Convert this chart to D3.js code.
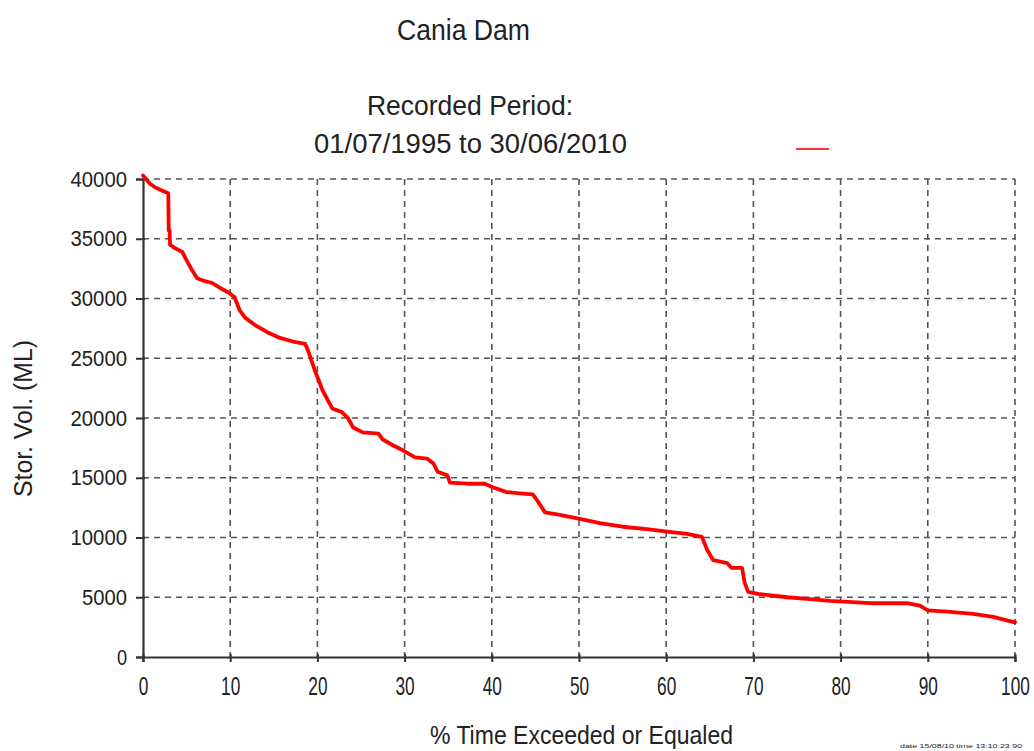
<!DOCTYPE html>
<html>
<head>
<meta charset="utf-8">
<script src="https://cdn.jsdelivr.net/npm/d3@7/dist/d3.min.js"></script>
<style>
  html, body { margin: 0; padding: 0; background: #fff; }
  svg { display: block; }
  text { font-family: "Liberation Sans Narrow", "Arial Narrow", "Liberation Sans", Arial, sans-serif; fill: #222; }
</style>
</head>
<body>
<svg id="chart" width="1034" height="751"></svg>
<script>
// ---- data ----
const pctExceeded = [0, 0.8, 1.4, 2.3, 2.9, 2.95, 3.05, 3.1, 3.7, 4.5, 5.0, 5.6, 6.2, 6.9, 7.9, 8.8, 9.8, 10.5, 11.1, 11.7, 12.8, 14.2, 15.7, 17.2, 18.6, 18.9, 19.7, 20.6, 21.7, 22.8, 23.5, 24.1, 25.2, 27.0, 27.5, 28.7, 29.8, 31.2, 32.6, 33.3, 33.8, 34.9, 35.2, 37.2, 39.2, 40.1, 41.7, 43.2, 44.7, 45.3, 46.1, 47.8, 50.1, 52.4, 55.0, 57.8, 60.1, 62.4, 64.1, 64.7, 65.4, 67.0, 67.5, 68.7, 69.0, 69.4, 70.8, 73.9, 76.5, 78.8, 83.4, 87.6, 89.1, 90.0, 92.2, 95.2, 97.5, 98.6, 100];
const storageML = [40300, 39600, 39300, 39000, 38800, 35700, 35700, 34500, 34200, 33900, 33200, 32400, 31700, 31500, 31300, 30900, 30500, 30100, 29000, 28400, 27800, 27200, 26700, 26400, 26200, 25700, 24000, 22300, 20800, 20500, 20000, 19200, 18800, 18700, 18200, 17700, 17300, 16700, 16600, 16200, 15500, 15200, 14600, 14500, 14500, 14200, 13800, 13700, 13600, 13000, 12100, 11900, 11550, 11200, 10900, 10700, 10500, 10300, 10050, 8950, 8100, 7850, 7450, 7450, 6200, 5450, 5250, 5000, 4850, 4700, 4500, 4500, 4300, 3900, 3800, 3600, 3350, 3150, 2900];
const xTicks = [0, 10, 20, 30, 40, 50, 60, 70, 80, 90, 100];
const yTicks = [0, 5000, 10000, 15000, 20000, 25000, 30000, 35000, 40000];
const titleText = "Cania Dam";
const subtitle1 = "Recorded Period:";
const subtitle2 = "01/07/1995 to 30/06/2010";
const xLabel = "% Time Exceeded or Equaled";
const yLabel = "Stor. Vol. (ML)";
const stampText = "date 15/08/10 time 13:10:23.90";

const svg = d3.select("#chart");
const x = d3.scaleLinear().domain([0, 100]).range([143, 1015]);
const y = d3.scaleLinear().domain([0, 40000]).range([657, 179]);

// grid
const grid = svg.append("g");
grid.selectAll("line.vg").data(xTicks.filter(d => d > 0)).join("line")
  .attr("x1", d => x(d)).attr("x2", d => x(d))
  .attr("y1", y(40000)).attr("y2", y(0))
  .attr("stroke", "#555").attr("stroke-width", 1.6).attr("stroke-dasharray", "6,5");
grid.selectAll("line.hg").data(yTicks.filter(d => d > 0)).join("line")
  .attr("x1", x(0)).attr("x2", x(100))
  .attr("y1", d => y(d)).attr("y2", d => y(d))
  .attr("stroke", "#555").attr("stroke-width", 1.6).attr("stroke-dasharray", "6,5");

// axes
const yAxis = svg.append("g").attr("transform", `translate(${x(0)},0)`)
  .call(d3.axisLeft(y).tickValues(yTicks).tickSize(7).tickPadding(9).tickFormat(d3.format("d")));
const xAxis = svg.append("g").attr("transform", `translate(0,${y(0)})`)
  .call(d3.axisBottom(x).tickValues(xTicks).tickSize(5).tickPadding(15).tickFormat(d3.format("d")));
[xAxis, yAxis].forEach(a => {
  a.select(".domain").attr("stroke", "#333").attr("stroke-width", 2.2);
  a.selectAll(".tick line").attr("stroke", "#333").attr("stroke-width", 2);
});
xAxis.selectAll(".tick line").attr("y1", -3);
yAxis.selectAll(".tick line").attr("x1", 2);
yAxis.selectAll(".tick text").attr("font-size", 22)
  .attr("fill", "#333").attr("font-family", null)
  .attr("textLength", d => String(d).length * 11.6 - 1.5).attr("lengthAdjust", "spacingAndGlyphs");
xAxis.selectAll(".tick text").attr("font-size", 25)
  .attr("fill", "#333").attr("font-family", null).attr("dy", "0.71em")
  .attr("transform", "scale(0.69,1)");

// line
const line = d3.line().x((d, i) => x(pctExceeded[i])).y((d, i) => y(storageML[i]))
  .curve(d3.curveLinear);
svg.append("path").datum(storageML)
  .attr("d", line)
  .attr("fill", "none").attr("stroke", "#ff0000").attr("stroke-width", 3.8)
  .attr("stroke-linejoin", "round").attr("stroke-linecap", "round");

// titles
svg.append("text").attr("x", 397).attr("y", 40).attr("font-size", 29)
  .attr("textLength", 133).attr("lengthAdjust", "spacingAndGlyphs").text(titleText);
svg.append("text").attr("x", 367).attr("y", 115).attr("font-size", 27)
  .attr("textLength", 206).attr("lengthAdjust", "spacingAndGlyphs").text(subtitle1);
svg.append("text").attr("x", 314).attr("y", 153).attr("font-size", 27)
  .attr("textLength", 313).attr("lengthAdjust", "spacingAndGlyphs").text(subtitle2);

// legend line
svg.append("line").attr("x1", 796).attr("x2", 829).attr("y1", 149).attr("y2", 149)
  .attr("stroke", "#ff3030").attr("stroke-width", 2);

// axis labels
svg.append("text").attr("x", 430).attr("y", 744).attr("font-size", 25)
  .attr("textLength", 303).attr("lengthAdjust", "spacingAndGlyphs").text(xLabel);
svg.append("text").attr("transform", "translate(32,497) rotate(-90)").attr("font-size", 26)
  .attr("textLength", 157).attr("lengthAdjust", "spacingAndGlyphs").text(yLabel);

// tiny stamp
svg.append("text").attr("x", 900).attr("y", 748).attr("font-size", 6)
  .attr("textLength", 122).attr("lengthAdjust", "spacingAndGlyphs").text(stampText);
</script>
</body>
</html>
